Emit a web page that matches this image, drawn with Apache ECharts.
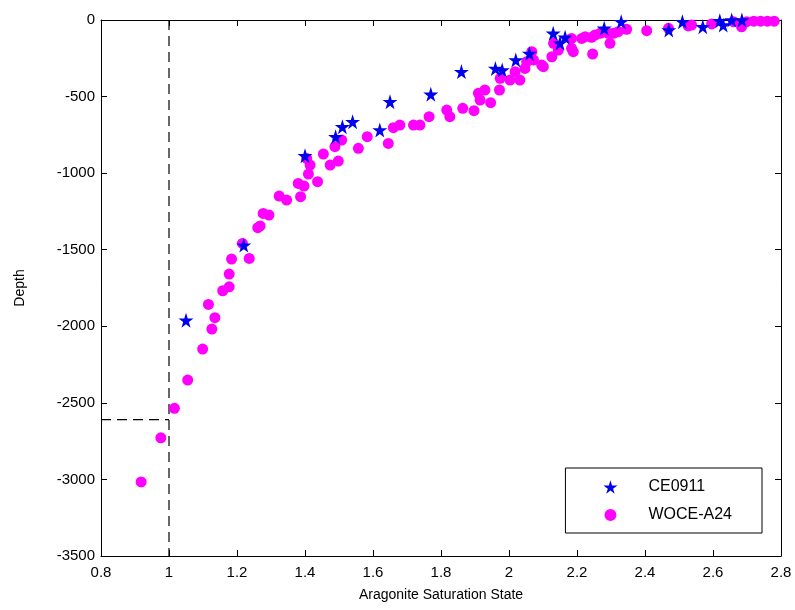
<!DOCTYPE html>
<html><head><meta charset="utf-8">
<script src="https://cdn.jsdelivr.net/npm/echarts@6/dist/echarts.min.js"></script>
<style>html,body{margin:0;padding:0;background:#fff}#c{width:795px;height:610px}</style>
</head><body><div id="c"></div>
<script>
var xTicks = [0.8, 1, 1.2, 1.4, 1.6, 1.8, 2, 2.2, 2.4, 2.6, 2.8];
var yTicks = [0, -500, -1000, -1500, -2000, -2500, -3000, -3500];
var ce0911 = [
  [1.05,-1960],[1.22,-1470],[1.40,-886],[1.49,-762],[1.51,-697],[1.54,-664],[1.62,-718],
  [1.65,-533],[1.77,-485],[1.86,-337],[1.96,-316],[1.98,-327],[2.02,-261],[2.06,-218],
  [2.13,-87],[2.165,-113],[2.15,-150],[2.28,-54],[2.33,-11],[2.47,-65],[2.51,-11],
  [2.57,-44],[2.62,-5],[2.63,-33],[2.655,0],[2.685,0]
];
var woce = [
  [0.918,-3016],[0.976,-2728],[1.016,-2536],[1.055,-2351],[1.099,-2149],[1.126,-2018],
  [1.135,-1944],[1.116,-1857],[1.158,-1768],[1.177,-1742],[1.177,-1659],[1.184,-1561],
  [1.216,-1459],[1.236,-1557],[1.261,-1356],[1.268,-1345],[1.277,-1263],[1.294,-1274],
  [1.324,-1150],[1.346,-1176],[1.387,-1154],[1.380,-1067],[1.397,-1084],[1.437,-1056],
  [1.410,-1006],[1.415,-947],[1.405,-904],[1.454,-875],[1.474,-947],[1.498,-921],
  [1.488,-827],[1.508,-784],[1.557,-838],[1.583,-762],[1.645,-806],[1.660,-703],
  [1.679,-686],[1.719,-686],[1.738,-686],[1.765,-631],[1.817,-588],[1.826,-631],
  [1.864,-577],[1.897,-592],[1.915,-523],[1.929,-457],[1.946,-540],[1.910,-479],
  [1.972,-457],[1.974,-381],[2.003,-392],[2.032,-392],[2.018,-338],[2.047,-316],
  [2.052,-272],[2.067,-207],[2.072,-261],[2.096,-294],[2.101,-305],[2.126,-240],
  [2.131,-152],[2.145,-196],[2.184,-120],[2.184,-185],[2.189,-207],[2.214,-120],
  [2.224,-109],[2.243,-113],[2.253,-98],[2.246,-222],[2.268,-87],[2.292,-87],
  [2.297,-152],[2.307,-87],[2.321,-76],[2.346,-61],[2.405,-70],[2.469,-54],
  [2.527,-39],[2.537,-33],[2.596,-26],[2.660,-11],[2.684,-44],[2.699,-11],
  [2.72,-8],[2.74,-8],[2.76,-8],[2.78,-8]
];
var vLine = [[1, 0], [1, -3500]];
var hLine = [[0.8, -2610], [1, -2610]];

var star = 'path://M50,0 L61,35 L98,35 L68,57 L79,91 L50,70 L21,91 L32,57 L2,35 L39,35 Z';
var font = 'Liberation Sans, Arial, sans-serif';
var chart = echarts.init(document.getElementById('c'));
function fmt(v){ return String(parseFloat(Number(v).toFixed(1))); }
var axLine = {show:true, onZero:false, lineStyle:{color:'#000', width:1}};
var tick = {show:true, inside:true, length:6, lineStyle:{color:'#000'}};
chart.setOption({
  animation:false,
  backgroundColor:'#fff',
  grid:{left:101, right:14, top:20, bottom:54},
  xAxis:[
    {type:'value', min:0.8, max:2.8, interval:0.2, position:'bottom',
     axisLine:axLine, axisTick:tick, splitLine:{show:false},
     axisLabel:{formatter:fmt, color:'#000', fontSize:15, fontFamily:font, margin:9},
     name:'Aragonite Saturation State', nameLocation:'middle', nameGap:32,
     nameTextStyle:{color:'#000', fontSize:14, fontFamily:font}},
    {type:'value', min:0.8, max:2.8, interval:0.2, position:'top',
     axisLine:axLine, axisTick:tick, splitLine:{show:false}, axisLabel:{show:false}}
  ],
  yAxis:[
    {type:'value', min:-3500, max:0, interval:500, position:'left',
     axisLine:axLine, axisTick:tick, splitLine:{show:false},
     axisLabel:{formatter:function(v){return String(v);}, color:'#000', fontSize:15, fontFamily:font, margin:6},
     name:'Depth', nameLocation:'middle', nameGap:74, nameRotate:90,
     nameTextStyle:{color:'#000', fontSize:14, fontFamily:font}},
    {type:'value', min:-3500, max:0, interval:500, position:'right',
     axisLine:axLine, axisTick:tick, splitLine:{show:false}, axisLabel:{show:false}}
  ],
  legend:{
    orient:'vertical', right:33, bottom:77,
    padding:[11,30,10,37], itemGap:12,
    borderColor:'#000', borderWidth:1, backgroundColor:'#fff',
    itemWidth:14, itemHeight:14,
    textStyle:{color:'#000', fontSize:16, fontFamily:font, padding:[0,0,0,26]},
    data:[{name:'CE0911'},{name:'WOCE-A24', itemStyle:{borderColor:'#fff', borderWidth:2}}]
  },
  series:[
    {type:'line', data:vLine, symbol:'none', silent:true,
     lineStyle:{color:'#000', width:1.2, type:[10,6]}, z:1},
    {type:'line', data:hLine, symbol:'none', silent:true,
     lineStyle:{color:'#000', width:1.2, type:[10,6]}, z:1},
    {name:'WOCE-A24', type:'scatter', data:woce, symbol:'circle', symbolSize:11,
     itemStyle:{color:'#ff00ff', opacity:1}, z:2},
    {name:'CE0911', type:'scatter', data:ce0911, symbol:star, symbolSize:15,
     itemStyle:{color:'#0000ee', opacity:1}, z:3}
  ]
});
</script></body></html>
